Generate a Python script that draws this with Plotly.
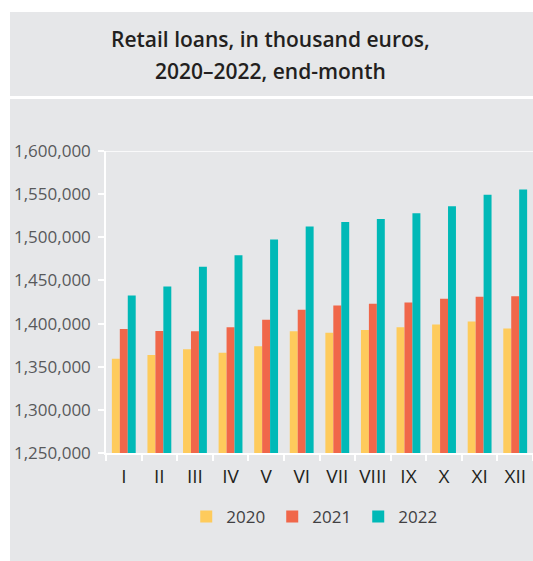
import plotly.graph_objects as go

months = ["I", "II", "III", "IV", "V", "VI", "VII", "VIII", "IX", "X", "XI", "XII"]
y2020 = [1359300, 1363600, 1370100, 1366300, 1373600, 1391100, 1389500, 1392600, 1395700, 1398800, 1402300, 1394200]
y2021 = [1393800, 1391500, 1391100, 1395700, 1404300, 1415900, 1420900, 1422900, 1424400, 1428700, 1431000, 1431800]
y2022 = [1432600, 1443000, 1465900, 1479100, 1497300, 1512400, 1517800, 1521300, 1527900, 1536000, 1549200, 1555400]
series_names = ["2020", "2021", "2022"]
colors = ["#FECB5C", "#F0674A", "#00B9B7"]

W, H = 533, 561
L, R, T, B = 106, 0, 151, 108
PW, PH = W - L - R, H - T - B

def px_x(p):
    return (p - L) / PW

def px_y(p):
    return (H - B - p) / PH

BG = "#E6E7E9"
FONT = "Open Sans"

fig = go.Figure()
for name, vals, c in zip(series_names, [y2020, y2021, y2022], colors):
    fig.add_trace(go.Bar(x=months, y=vals, name=name, marker=dict(color=c, line=dict(width=0))))

shapes = [
    dict(type="rect", xref="paper", yref="paper", x0=px_x(10), x1=px_x(540), y0=px_y(96), y1=px_y(12),
         fillcolor=BG, line=dict(width=0), layer="below"),
    dict(type="rect", xref="paper", yref="paper", x0=px_x(10), x1=px_x(540), y0=px_y(565), y1=px_y(99),
         fillcolor=BG, line=dict(width=0), layer="below"),
    dict(type="line", xref="paper", yref="y", x0=0, x1=1, y0=1600000, y1=1600000,
         line=dict(color="white", width=1.5), layer="above"),
]

title_font = dict(family=FONT, size=21, color="#231F20", weight=600)
annotations = [
    dict(text="Retail loans, in thousand euros,", xref="paper", yref="paper",
         x=px_x(270.5), y=px_y(39), xanchor="center", yanchor="middle", showarrow=False,
         font=title_font),
    dict(text="2020–2022, end-month", xref="paper", yref="paper",
         x=px_x(270.5), y=px_y(71), xanchor="center", yanchor="middle", showarrow=False,
         font=title_font),
]

fig.update_layout(
    width=W, height=H,
    margin=dict(l=L, r=R, t=T, b=B, pad=0),
    paper_bgcolor="white", plot_bgcolor=BG,
    barmode="group", bargap=0.33, bargroupgap=0,
    shapes=shapes, annotations=annotations,
    font=dict(family=FONT),
    legend=dict(orientation="h", x=0.49, xanchor="center", y=px_y(517), yanchor="middle",
                font=dict(family=FONT, size=17, color="#414042"), bgcolor="rgba(0,0,0,0)",
                entrywidth=41, entrywidthmode="pixels", traceorder="normal"),
    xaxis=dict(type="category", showline=True, linecolor="white", linewidth=1.5,
               ticks="outside", tickson="boundaries", ticklen=6, tickwidth=1.5, tickcolor="white",
               showgrid=False, tickangle=0, tickfont=dict(family=FONT, size=19, color="#231F20"),
               ticklabelstandoff=5),
    yaxis=dict(range=[1250000, 1600000], tickvals=list(range(1250000, 1600001, 50000)),
               tickformat=",d", showline=True, linecolor="white", linewidth=1.5,
               ticks="outside", ticklen=6, tickwidth=1.5, tickcolor="white",
               showgrid=False, zeroline=False,
               tickfont=dict(family=FONT, size=17, color="#58595B"), ticklabelstandoff=4),
)

fig.write_html("out.html")
